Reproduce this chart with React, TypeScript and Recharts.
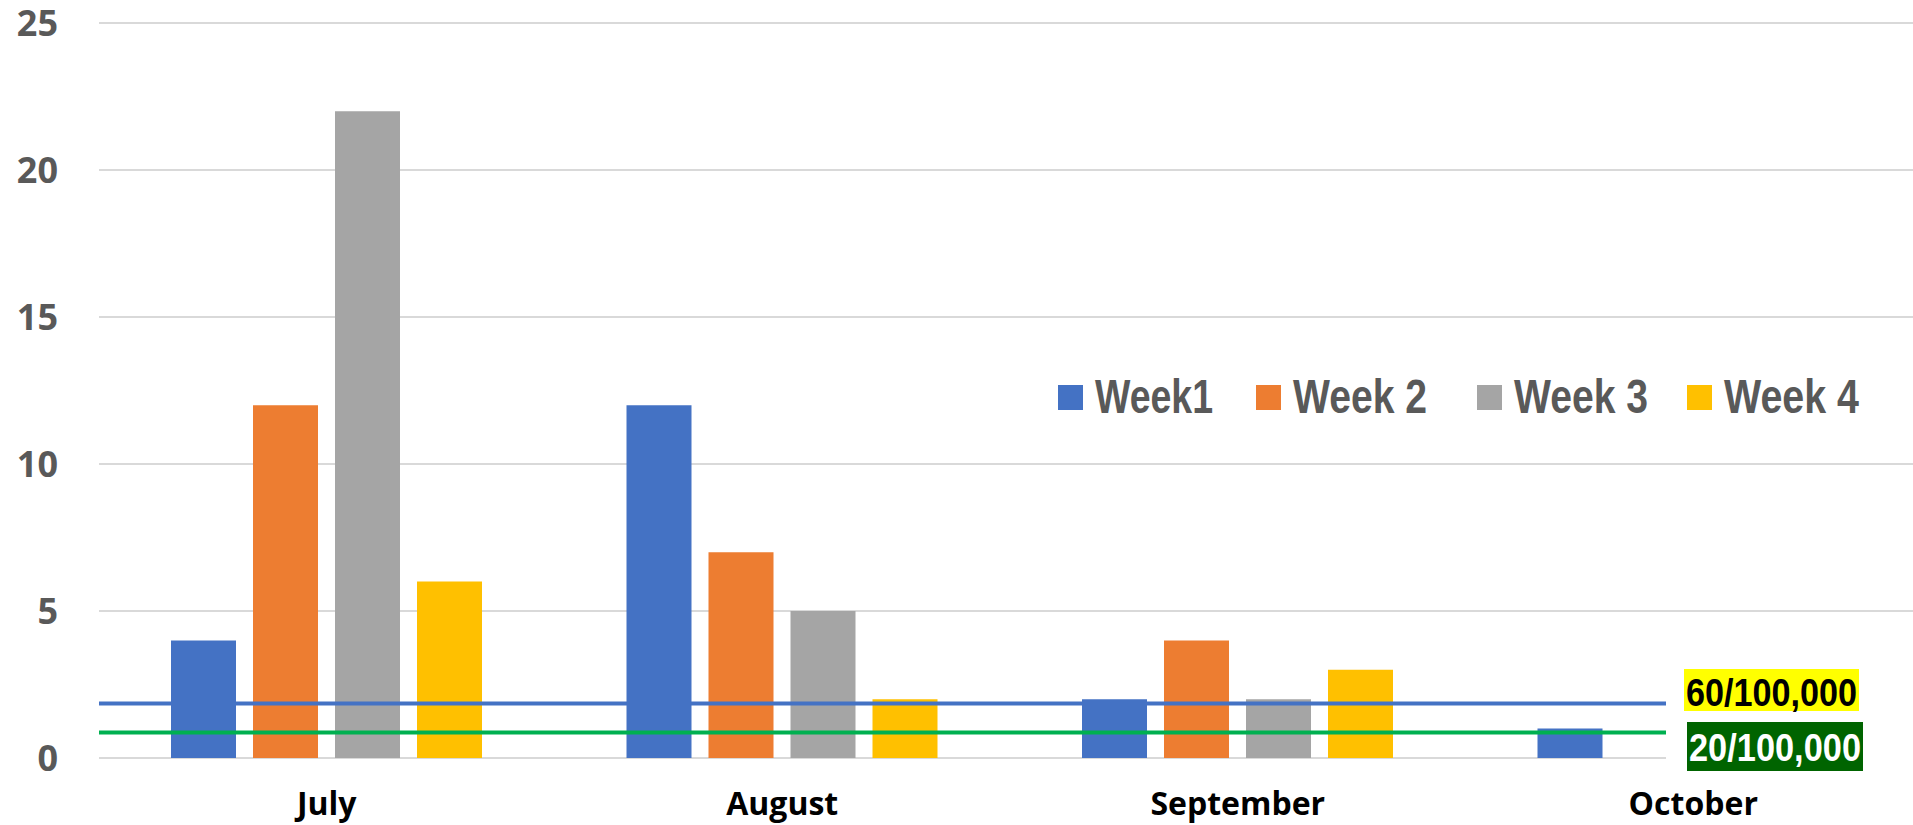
import React from 'react';
import { BarChart, Bar, XAxis, YAxis, CartesianGrid, ReferenceLine, Legend } from 'recharts';

const months = ['July', 'August', 'September', 'October'];
const week1 = [4, 12, 2, 1];
const week2 = [12, 7, 4, null];
const week3 = [22, 5, 2, null];
const week4 = [6, 2, 3, null];
const yTicks = [0, 5, 10, 15, 20, 25];
const seriesKeys = ['w1', 'w2', 'w3', 'w4'];
const seriesNames = ['Week1', 'Week 2', 'Week 3', 'Week 4'];
const seriesColors = ['#4472C4', '#ED7D31', '#A5A5A5', '#FFC000'];
const threshold60 = 1.85;
const threshold20 = 0.87;
const thresholdLabels = ['60/100,000', '20/100,000'];

const seriesValues = [week1, week2, week3, week4];
const data = months.map((m, i) => {
  const row: Record<string, any> = { month: m };
  seriesKeys.forEach((k, j) => {
    row[k] = seriesValues[j][i];
  });
  return row;
});

const legendTextWidths = [118, 134, 134, 135];
const legendGaps = [43, 50, 39, 0];

const LegendContent = (props: any) => {
  const payload = ([...(props.payload || [])] as any[]).sort(
    (a, b) => seriesNames.indexOf(a.value) - seriesNames.indexOf(b.value)
  );
  let x = 8;
  const items = payload.map((p: any, i: number) => {
    const sx = x;
    const tx = sx + 37;
    const tw = legendTextWidths[i] ?? 130;
    x = tx + tw + (legendGaps[i] ?? 44);
    return (
      <g key={i}>
        <rect x={sx} y={15} width={25} height={25} fill={p.color} />
        <text
          x={tx}
          y={43}
          fontFamily='"Liberation Sans", Arial, sans-serif'
          fontWeight={700}
          fontSize={48}
          fill="#595959"
          textLength={tw}
          lengthAdjust="spacingAndGlyphs"
        >
          {p.value}
        </text>
      </g>
    );
  });
  return (
    <svg width={840} height={70} style={{ display: 'block', overflow: 'visible' }}>
      {items}
    </svg>
  );
};

const labelText = (txt: string, color: string, w: number, h: number, baseline: number) => (
  <svg width={w} height={h} style={{ display: 'block', overflow: 'visible' }}>
    <text
      x={2}
      y={baseline}
      fontFamily='"Liberation Sans", Arial, sans-serif'
      fontWeight={700}
      fontSize={39}
      fill={color}
      textLength={w - 4}
      lengthAdjust="spacingAndGlyphs"
    >
      {txt}
    </text>
  </svg>
);

export default function App() {
  return (
    <div
      style={{
        position: 'fixed',
        left: 0,
        top: 0,
        width: 1913,
        height: 825,
        overflow: 'hidden',
        background: '#ffffff',
      }}
    >
      <BarChart
        width={1925}
        height={825}
        data={data}
        margin={{ top: 23, right: 4, left: 0, bottom: 0 }}
        barSize={65}
        barGap={17}
      >
        <CartesianGrid vertical={false} stroke="#D9D9D9" strokeWidth={2} />
        <XAxis
          dataKey="month"
          height={67}
          axisLine={false}
          tickLine={false}
          tickMargin={28}
          tick={{ fill: '#000000', fontSize: 32, fontWeight: 700, fontFamily: '"Open Sans", sans-serif' }}
        />
        <YAxis
          width={99}
          domain={[0, 25]}
          ticks={yTicks}
          axisLine={false}
          tickLine={false}
          tickMargin={35}
          tick={{ fill: '#595959', fontSize: 36, fontWeight: 700, fontFamily: '"Open Sans", sans-serif' }}
        />
        {seriesKeys.map((k, i) => (
          <Bar key={k} dataKey={k} name={seriesNames[i]} fill={seriesColors[i]} isAnimationActive={false} />
        ))}
        <ReferenceLine y={threshold60} stroke="#4472C4" strokeWidth={4} />
        <ReferenceLine y={threshold20} stroke="#00B050" strokeWidth={4} />
        <Legend
          layout="horizontal"
          verticalAlign="middle"
          align="center"
          content={<LegendContent />}
          wrapperStyle={{ position: 'absolute', left: 1050, top: 370, width: 840, height: 70 }}
        />
      </BarChart>
      <div
        style={{
          position: 'absolute',
          left: 1666,
          top: 650,
          width: 260,
          height: 125,
          background: '#ffffff',
        }}
      />
      <div
        style={{
          position: 'absolute',
          left: 1684,
          top: 669,
          width: 175,
          height: 42,
          background: '#FFFF00',
        }}
      >
        {labelText(thresholdLabels[0], '#000000', 175, 42, 37)}
      </div>
      <div
        style={{
          position: 'absolute',
          left: 1687,
          top: 722,
          width: 176,
          height: 49,
          background: '#006400',
        }}
      >
        {labelText(thresholdLabels[1], '#FFFFFF', 176, 49, 39)}
      </div>
    </div>
  );
}
